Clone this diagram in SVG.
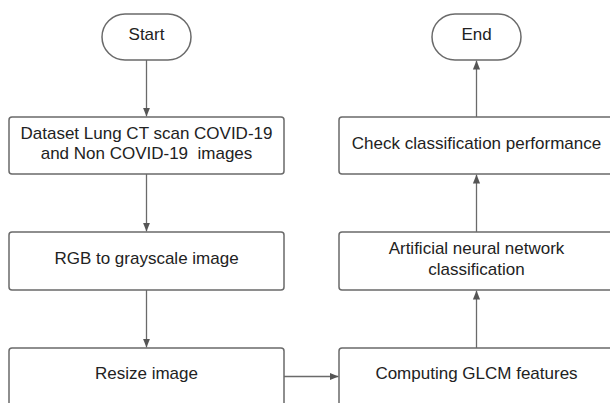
<svg xmlns="http://www.w3.org/2000/svg" width="610" height="403" viewBox="0 0 610 403">
<style>
.box{fill:#fff;stroke:#6a6a6a;stroke-width:1.5}
.t{font-family:"Liberation Sans",Arial,sans-serif;font-size:17px;fill:#222;text-anchor:middle}
.c{fill:none;stroke:#6a6a6a;stroke-width:1.3}
</style>
<defs>
<marker id="ah" viewBox="0 0 10 10" refX="10" refY="5" markerWidth="9" markerHeight="9" markerUnits="userSpaceOnUse" orient="auto">
<path d="M0,1 L10,5 L0,9 z" fill="#555"/>
</marker>
</defs>
<rect width="610" height="403" fill="#fff"/>
<g id="connectors">
<line class="c" x1="146.5" y1="60" x2="146.5" y2="116.5" marker-end="url(#ah)"/>
<line class="c" x1="146.5" y1="174" x2="146.5" y2="231.5" marker-end="url(#ah)"/>
<line class="c" x1="146.5" y1="290" x2="146.5" y2="347.5" marker-end="url(#ah)"/>
<line class="c" x1="284" y1="376.5" x2="338.5" y2="376.5" marker-end="url(#ah)"/>
<line class="c" x1="476.5" y1="348" x2="476.5" y2="290.5" marker-end="url(#ah)"/>
<line class="c" x1="476.5" y1="232" x2="476.5" y2="174.5" marker-end="url(#ah)"/>
<line class="c" x1="476.5" y1="117" x2="476.5" y2="60.5" marker-end="url(#ah)"/>
</g>
<g id="start">
<rect class="box" x="102" y="14" width="89" height="46" rx="23"/>
<text class="t" x="146.5" y="40">Start</text>
</g>
<g id="dataset">
<rect class="box" x="9" y="117" width="275" height="57" rx="3"/>
<text class="t" x="146.5" y="139">Dataset Lung CT scan COVID-19</text>
<text class="t" x="146.5" y="159" xml:space="preserve">and Non COVID-19  images</text>
</g>
<g id="rgb">
<rect class="box" x="9" y="232" width="275" height="58" rx="3"/>
<text class="t" x="146.5" y="264">RGB to grayscale image</text>
</g>
<g id="resize">
<rect class="box" x="9" y="348" width="275" height="70" rx="3"/>
<text class="t" x="146.5" y="379">Resize image</text>
</g>
<g id="end">
<rect class="box" x="432" y="14" width="89" height="46" rx="23"/>
<text class="t" x="476.5" y="40">End</text>
</g>
<g id="check">
<rect class="box" x="339" y="117" width="275" height="57" rx="3"/>
<text class="t" x="476.5" y="149">Check classification performance</text>
</g>
<g id="ann">
<rect class="box" x="339" y="232" width="275" height="58" rx="3"/>
<text class="t" x="476.5" y="254">Artificial neural network</text>
<text class="t" x="476.5" y="275">classification</text>
</g>
<g id="glcm">
<rect class="box" x="339" y="348" width="275" height="70" rx="3"/>
<text class="t" x="476.5" y="379">Computing GLCM features</text>
</g>
</svg>
